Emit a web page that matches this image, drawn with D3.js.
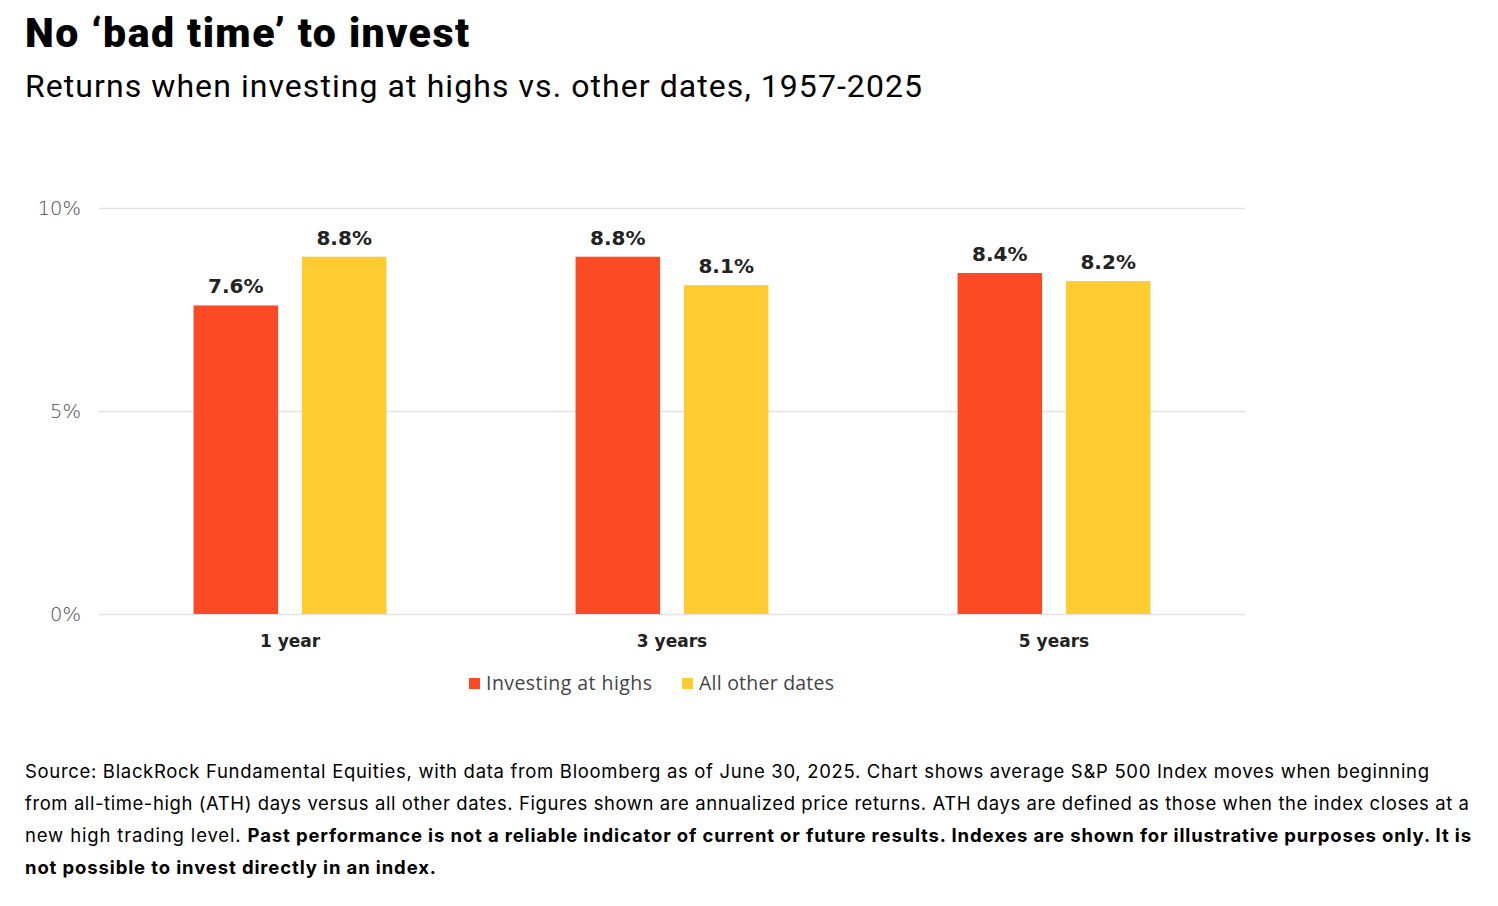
<!DOCTYPE html>
<html><head><meta charset="utf-8">
<script src="https://cdn.jsdelivr.net/npm/d3@7"></script>
<style>
html,body{margin:0;padding:0;background:#fff;}
svg{display:block;}
</style>
</head><body>
<svg id="c" width="1498" height="906"></svg>
<script>
const categories = ["1 year", "3 years", "5 years"];
const seriesNames = ["Investing at highs", "All other dates"];
const investingAtHighs = [7.6, 8.8, 8.4];
const allOtherDates = [8.8, 8.1, 8.2];
const yTicks = [0, 5, 10];
const title = "No \u2018bad time\u2019 to invest";
const subtitle = "Returns when investing at highs vs. other dates, 1957-2025";
const footLines = [
  [["Source: BlackRock Fundamental Equities, with data from Bloomberg as of June 30, 2025. Chart shows average S&P 500 Index moves when beginning", false]],
  [["from all-time-high (ATH) days versus all other dates. Figures shown are annualized price returns. ATH days are defined as those when the index closes at a", false]],
  [["new high trading level. ", false], ["Past performance is not a reliable indicator of current or future results. Indexes are shown for illustrative purposes only. It is", true]],
  [["not possible to invest directly in an index.", true]]
];
const colors = ["#FC4926", "#FCCC31"];

const svg = d3.select("#c");

// fit text to a target width by letter-spacing
function fit(sel, target) {
  const node = sel.node();
  const w = node.getComputedTextLength();
  const n = node.textContent.length;
  if (n > 1) sel.attr("letter-spacing", ((target - w) / (n - 1)).toFixed(3));
}

fit(svg.append("text").attr("x", 25).attr("y", 47)
  .attr("font-family", "Roboto").attr("font-weight", 900).attr("font-size", 41)
  .attr("fill", "#000").text(title), 444);
fit(svg.append("text").attr("x", 25).attr("y", 97)
  .attr("font-family", "Roboto").attr("font-size", 32)
  .attr("fill", "#000").text(subtitle), 897);

const x0 = d3.scaleBand().domain(categories).range([99, 1245]).paddingInner(0.495).paddingOuter(0.2475);
const x1 = d3.scaleBand().domain(seriesNames).range([0, x0.bandwidth()]).paddingInner(0.22).paddingOuter(0);
const y = d3.scaleLinear().domain([0, 10]).range([614, 208]);

// grid
const yAxis = d3.axisLeft(y).tickValues(yTicks).tickSize(-(1245 - 99)).tickFormat(d => d + "%");
const ga = svg.append("g").attr("transform", "translate(99,0)").call(yAxis);
ga.select(".domain").remove();
ga.selectAll(".tick line").attr("stroke", "#e3e3e3").attr("stroke-width", 1.5);
ga.selectAll(".tick text").attr("x", -18).attr("dy", "0.35em")
  .attr("font-family", "'DejaVu Sans', sans-serif").attr("font-size", 19.5).attr("fill", "#4a4a4a")
  .attr("font-weight", 300);

const data = categories.map((c, i) => ({cat: c, vals: [
  {s: seriesNames[0], v: investingAtHighs[i], ci: 0},
  {s: seriesNames[1], v: allOtherDates[i], ci: 1}]}));

const g = svg.append("g");
const groups = g.selectAll("g.grp").data(data).join("g")
  .attr("transform", d => `translate(${x0(d.cat)},0)`);
groups.selectAll("rect").data(d => d.vals).join("rect")
  .attr("x", d => x1(d.s)).attr("width", x1.bandwidth())
  .attr("y", d => y(d.v)).attr("height", d => y(0) - y(d.v))
  .attr("fill", d => colors[d.ci]);
groups.selectAll("text.lbl").data(d => d.vals).join("text").attr("class", "lbl")
  .attr("x", d => x1(d.s) + x1.bandwidth() / 2).attr("y", d => y(d.v) - 12)
  .attr("text-anchor", "middle").attr("font-family", "'DejaVu Sans', sans-serif")
  .attr("font-weight", 700).attr("font-size", 20).attr("fill", "#222")
  .text(d => d.v.toFixed(1) + "%");

// category axis
const xAxis = d3.axisBottom(x0).tickSize(0);
const gx = svg.append("g").attr("transform", "translate(0,614)").call(xAxis);
gx.select(".domain").remove();
gx.selectAll(".tick text").attr("dy", 0).attr("y", 33)
  .attr("font-family", "'DejaVu Sans', Verdana, sans-serif").attr("font-weight", 700)
  .attr("font-size", 17).attr("fill", "#222");

// legend
const legendX = [469, 682];
const legendW = [166, 135];
const lg = svg.append("g").selectAll("g").data(seriesNames).join("g")
  .attr("transform", (d, i) => `translate(${legendX[i]},678)`);
lg.append("rect").attr("width", 11).attr("height", 11).attr("fill", (d, i) => colors[i]);
lg.append("text").attr("x", 17).attr("y", 12)
  .attr("font-family", "'Open Sans', sans-serif").attr("font-size", 19.5).attr("fill", "#444")
  .text(d => d)
  .each(function(d, i) { fit(d3.select(this), legendW[i]); });

// footnote
const footW = [1404, 1444, 1446, 411];
footLines.forEach((line, i) => {
  const t = svg.append("text").attr("x", 25).attr("y", 778 + i * 32)
    .attr("font-family", "Inter, Roboto, sans-serif").attr("font-size", 18.5).attr("fill", "#000");
  line.forEach(([s, b]) => t.append("tspan").attr("font-weight", b ? 700 : 400).text(s));
  fit(t, footW[i]);
});
</script>
</body></html>
